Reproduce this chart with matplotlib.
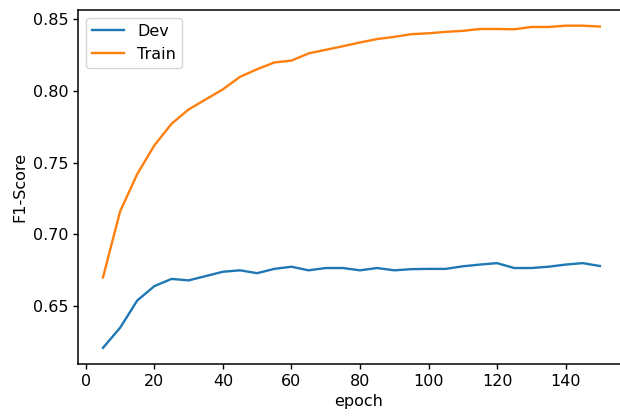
import matplotlib
matplotlib.use("Agg")
import matplotlib.pyplot as plt

epochs = list(range(5, 155, 5))
dev = [0.621, 0.635, 0.654, 0.664, 0.669, 0.668, 0.671, 0.674, 0.675, 0.673,
       0.676, 0.6775, 0.675, 0.6766, 0.6766, 0.675, 0.6766, 0.675, 0.6758, 0.676,
       0.676, 0.6778, 0.679, 0.680, 0.6766, 0.6766, 0.6775, 0.679, 0.680, 0.678]
train = [0.670, 0.716, 0.742, 0.762, 0.777, 0.787, 0.794, 0.801, 0.8097, 0.815,
         0.8197, 0.821, 0.826, 0.8285, 0.831, 0.8336, 0.836, 0.8375, 0.8394, 0.840,
         0.841, 0.8417, 0.843, 0.843, 0.8428, 0.8444, 0.8444, 0.8453, 0.8453, 0.8447]
xticks = [0, 20, 40, 60, 80, 100, 120, 140]

plt.rcParams['font.size'] = 11.5
plt.rcParams['axes.linewidth'] = 1.1
plt.rcParams['xtick.major.width'] = 1.0
plt.rcParams['ytick.major.width'] = 1.0

fig = plt.figure(figsize=(6.2, 4.16), dpi=100)
# the original screenshot cuts off the right edge of the axes
ax = fig.add_axes([0.126, 0.125, 0.904, 0.852])

ax.plot(epochs, dev, label='Dev', lw=1.7)
ax.plot(epochs, train, label='Train', lw=1.7)
ax.set_xlim(-2.25, 161.3)
ax.set_xticks(xticks)

ax.set_xlabel('epoch')
ax.set_ylabel('F1-Score')
ax.legend(loc='upper left')

fig.savefig('out.png', dpi=100)
